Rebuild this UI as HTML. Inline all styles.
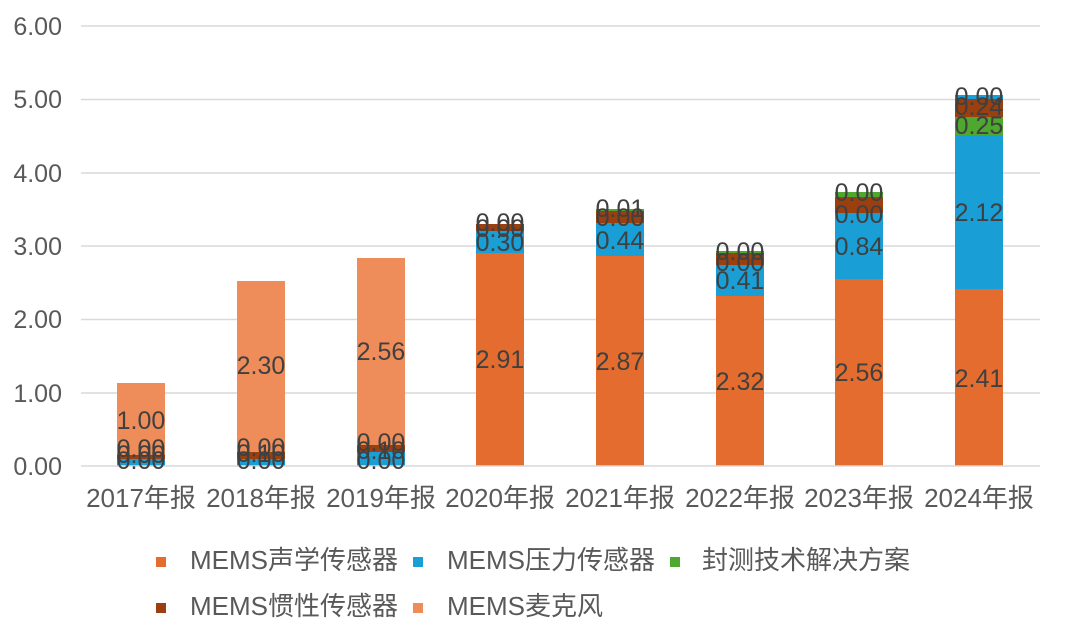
<!DOCTYPE html>
<html><head><meta charset="utf-8"><style>
html,body{margin:0;padding:0;background:#fff;}
svg{display:block;font-family:"Liberation Sans","Noto Sans CJK SC",sans-serif;}
</style></head><body>
<svg width="1066" height="620" viewBox="0 0 1066 620">
<g stroke="#d9d9d9" stroke-width="1.5">
<line x1="81" x2="1040" y1="26" y2="26"/><line x1="81" x2="1040" y1="99.5" y2="99.5"/>
<line x1="81" x2="1040" y1="173" y2="173"/><line x1="81" x2="1040" y1="246" y2="246"/>
<line x1="81" x2="1040" y1="319.5" y2="319.5"/><line x1="81" x2="1040" y1="393" y2="393"/>
</g>
<g fill="#595959" font-size="25" text-anchor="end">
<text x="62" y="35">6.00</text><text x="62" y="108">5.00</text><text x="62" y="182">4.00</text>
<text x="62" y="255">3.00</text><text x="62" y="328">2.00</text><text x="62" y="402">1.00</text><text x="62" y="475">0.00</text>
</g>
<g>
<rect x="117" y="459" width="48" height="7" fill="#1a9ed6"/>
<rect x="117" y="455" width="48" height="4" fill="#9c3f0e"/>
<rect x="117" y="383" width="48" height="72" fill="#ee8d5a"/>
<rect x="237" y="459" width="48" height="7" fill="#1a9ed6"/>
<rect x="237" y="452" width="48" height="7" fill="#9c3f0e"/>
<rect x="237" y="281" width="48" height="171" fill="#ee8d5a"/>
<rect x="357" y="452" width="48" height="14" fill="#1a9ed6"/>
<rect x="357" y="445" width="48" height="7" fill="#9c3f0e"/>
<rect x="357" y="258" width="48" height="187" fill="#ee8d5a"/>
<rect x="476" y="253" width="48" height="213" fill="#e46c2e"/>
<rect x="476" y="231" width="48" height="22" fill="#1a9ed6"/>
<rect x="476" y="224" width="48" height="7" fill="#9c3f0e"/>
<rect x="596" y="256" width="48" height="210" fill="#e46c2e"/>
<rect x="596" y="223" width="48" height="33" fill="#1a9ed6"/>
<rect x="596" y="211" width="48" height="12" fill="#9c3f0e"/>
<rect x="596" y="209" width="48" height="2" fill="#4ea72e"/>
<rect x="716" y="296" width="48" height="170" fill="#e46c2e"/>
<rect x="716" y="265" width="48" height="31" fill="#1a9ed6"/>
<rect x="716" y="253" width="48" height="12" fill="#9c3f0e"/>
<rect x="716" y="251" width="48" height="2" fill="#4ea72e"/>
<rect x="835" y="279" width="48" height="187" fill="#e46c2e"/>
<rect x="835" y="213" width="48" height="66" fill="#1a9ed6"/>
<rect x="835" y="197" width="48" height="16" fill="#9c3f0e"/>
<rect x="835" y="192" width="48" height="5" fill="#4ea72e"/>
<rect x="955" y="289" width="48" height="177" fill="#e46c2e"/>
<rect x="955" y="135" width="48" height="154" fill="#1a9ed6"/>
<rect x="955" y="117" width="48" height="18" fill="#4ea72e"/>
<rect x="955" y="99" width="48" height="18" fill="#9c3f0e"/>
<rect x="955" y="95" width="48" height="4" fill="#1a9ed6"/>
</g>
<line x1="81" x2="1040" y1="466" y2="466" stroke="#d9d9d9" stroke-width="1.5"/>
<g fill="#404040" font-size="25" text-anchor="middle">
<text x="141" y="429">1.00</text><text x="141" y="469">0.00</text><text x="141" y="463">0.00</text><text x="141" y="457">0.00</text>
<text x="261" y="374">2.30</text><text x="261" y="469">0.00</text><text x="261" y="462">0.10</text><text x="261" y="456">0.00</text>
<text x="381" y="360">2.56</text><text x="381" y="469">0.00</text><text x="381" y="459">0.10</text><text x="381" y="451">0.00</text>
<text x="500" y="368">2.91</text><text x="500" y="251">0.30</text><text x="500" y="237">0.00</text><text x="500" y="231">0.00</text>
<text x="620" y="370">2.87</text><text x="620" y="249">0.44</text><text x="620" y="226">0.00</text><text x="620" y="217">0.01</text>
<text x="740" y="390">2.32</text><text x="740" y="289">0.41</text><text x="740" y="271">0.00</text><text x="740" y="260">0.00</text>
<text x="859" y="381">2.56</text><text x="859" y="255">0.84</text><text x="859" y="223">0.00</text><text x="859" y="201">0.00</text>
<text x="979" y="387">2.41</text><text x="979" y="221">2.12</text><text x="979" y="134">0.25</text><text x="979" y="115">0.24</text><text x="979" y="105">0.00</text>
</g>
<g fill="#595959" font-size="26" text-anchor="middle">
<text x="141" y="507">2017年报</text><text x="261" y="507">2018年报</text><text x="381" y="507">2019年报</text><text x="500" y="507">2020年报</text>
<text x="620" y="507">2021年报</text><text x="740" y="507">2022年报</text><text x="859" y="507">2023年报</text><text x="979" y="507">2024年报</text>
</g>
<g font-size="26" fill="#595959">
<rect x="156" y="557" width="10" height="10" fill="#e46c2e"/><text x="190" y="569">MEMS声学传感器</text>
<rect x="413" y="557" width="10" height="10" fill="#1a9ed6"/><text x="447" y="569">MEMS压力传感器</text>
<rect x="670" y="557" width="10" height="10" fill="#4ea72e"/><text x="702" y="569">封测技术解决方案</text>
<rect x="156" y="603" width="10" height="10" fill="#9c3f0e"/><text x="190" y="615">MEMS惯性传感器</text>
<rect x="413" y="603" width="10" height="10" fill="#ee8d5a"/><text x="447" y="615">MEMS麦克风</text>
</g>
</svg>
</body></html>
